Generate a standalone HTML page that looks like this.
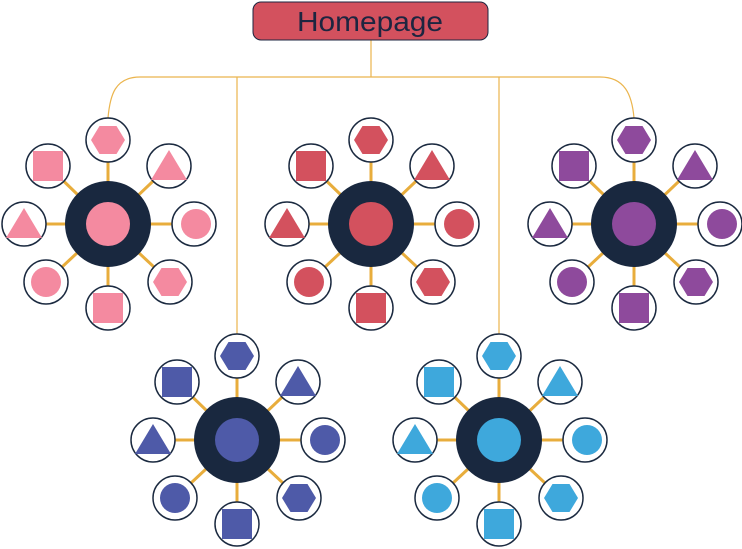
<!DOCTYPE html>
<html><head><meta charset="utf-8"><style>html,body{margin:0;padding:0;background:#fff}svg{display:block}</style></head>
<body>
<svg width="742" height="549" viewBox="0 0 742 549" xmlns="http://www.w3.org/2000/svg">
<defs>
<g id="c">
  <g stroke="#e8ad3c" stroke-width="3">
    <line x1="0" y1="0" x2="0" y2="-84"/><line x1="0" y1="0" x2="0" y2="84"/>
    <line x1="0" y1="0" x2="-84" y2="0"/><line x1="0" y1="0" x2="86" y2="0"/>
    <line x1="0" y1="0" x2="-60" y2="-58"/><line x1="0" y1="0" x2="61" y2="-58"/>
    <line x1="0" y1="0" x2="-62" y2="58"/><line x1="0" y1="0" x2="62" y2="58"/>
  </g>
  <g fill="#fff" stroke="#1b2a40" stroke-width="1.5">
    <circle cx="0" cy="-84" r="22"/><circle cx="0" cy="84" r="22"/>
    <circle cx="-84" cy="0" r="22"/><circle cx="86" cy="0" r="22"/>
    <circle cx="-60" cy="-58" r="22"/><circle cx="61" cy="-58" r="22"/>
    <circle cx="-62" cy="58" r="22"/><circle cx="62" cy="58" r="22"/>
  </g>
  <circle cx="0" cy="0" r="43" fill="#19283f"/>
  <g fill="currentColor">
    <circle cx="0" cy="0" r="22"/>
    <polygon points="-17,-84 -8.5,-98 8.5,-98 17,-84 8.5,-70 -8.5,-70"/>
    <polygon points="45,58 53.5,44 70.5,44 79,58 70.5,72 53.5,72"/>
    <rect x="-75" y="-73" width="30" height="30"/>
    <rect x="-15" y="69" width="30" height="30"/>
    <polygon points="61,-74 79,-44 43,-44"/>
    <polygon points="-84,-16 -66,14 -102,14"/>
    <circle cx="88" cy="0" r="15"/>
    <circle cx="-62" cy="58" r="15"/>
  </g>
</g>
</defs>
<g fill="none" stroke="#ebb54e" stroke-width="1.2">
  <line x1="371" y1="40" x2="371" y2="77"/>
  <path d="M108,118 C110,95 115,77 140,77 L600,77 C625,77 632,95 634,118"/>
  <line x1="237" y1="77" x2="237" y2="356"/>
  <line x1="499" y1="77" x2="499" y2="356"/>
</g>
<use href="#c" x="108" y="224" style="color:#f48aa0"/>
<use href="#c" x="371" y="224" style="color:#d3515e"/>
<use href="#c" x="634" y="224" style="color:#8e4a9c"/>
<use href="#c" x="237" y="440" style="color:#4e5aa8"/>
<use href="#c" x="499" y="440" style="color:#3ea8dc"/>
<rect x="253" y="2" width="235" height="38" rx="8" fill="#d3515e" stroke="#1d2540" stroke-width="1"/>
<text x="297" y="31" textLength="146" lengthAdjust="spacingAndGlyphs" font-family="Liberation Sans, sans-serif" font-size="28" fill="#1d2540">Homepage</text>
</svg>
</body></html>
